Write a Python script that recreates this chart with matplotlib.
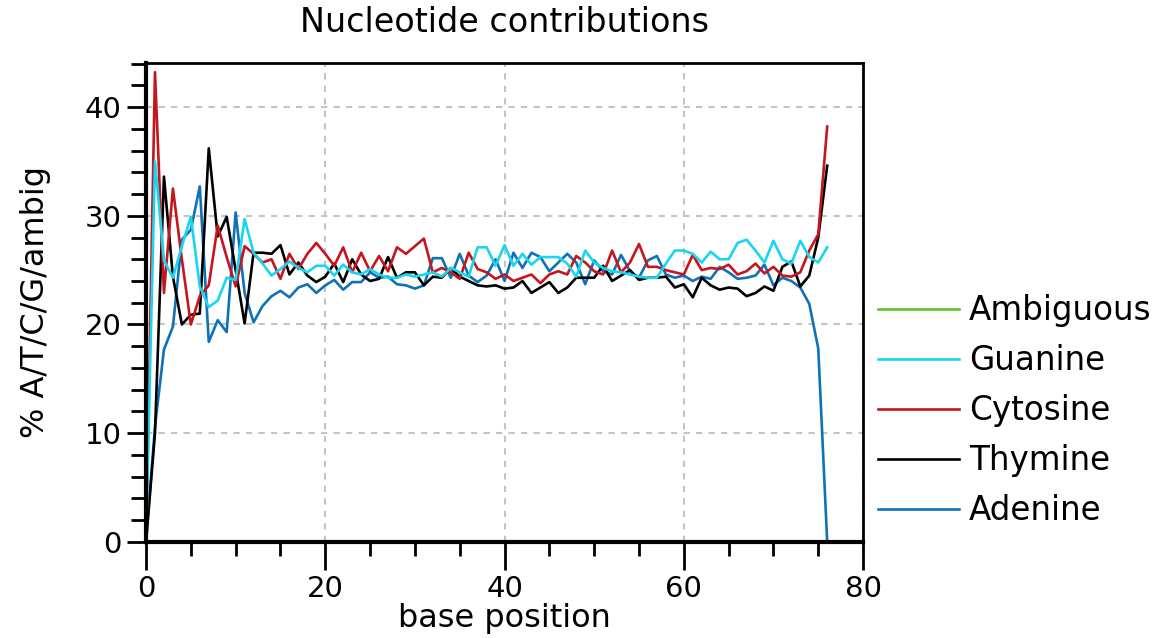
import matplotlib.pyplot as plt
from matplotlib.ticker import MultipleLocator

# per-position nucleotide percentages
positions = list(range(77))

adenine = [0, 10.6, 17.7, 19.8, 27.8, 28.7, 32.7, 18.4, 20.4, 19.3,
           30.3, 22.9, 20.2, 21.7, 22.6, 23.1, 22.5, 23.4, 23.7, 22.9,
           23.6, 24.1, 23.2, 23.9, 23.9, 24.8, 24.3, 24.4, 23.7, 23.6,
           23.3, 23.6, 26.1, 26.1, 24.3, 26.5, 24.5, 23.9, 24.5, 26.0,
           24.0, 26.6, 25.2, 26.6, 26.2, 24.9, 25.7, 26.5, 25.7, 23.7,
           25.9, 24.9, 24.6, 26.4, 24.9, 24.3, 25.9, 26.3, 24.6, 24.3,
           24.5, 24.0, 24.4, 24.2, 25.3, 24.8, 24.2, 24.3, 24.5, 25.5,
           23.6, 24.3, 24.0, 23.4, 21.9, 17.8, 0]

thymine = [0, 10.0, 33.6, 24.4, 20.0, 20.9, 21.0, 36.2, 28.1, 29.9,
           25.0, 20.1, 26.6, 26.6, 26.5, 27.3, 24.6, 25.7, 24.5, 23.9,
           24.4, 25.6, 23.9, 26.0, 24.6, 24.0, 24.2, 26.2, 24.3, 24.8,
           24.8, 23.6, 24.4, 24.3, 25.2, 24.4, 24.0, 23.6, 23.5, 23.6,
           23.3, 23.4, 24.0, 22.9, 23.4, 23.9, 22.9, 23.4, 24.3, 24.3,
           24.3, 25.4, 24.0, 24.5, 25.0, 24.1, 24.3, 24.3, 24.4, 23.4,
           23.7, 22.5, 24.3, 23.6, 23.2, 23.4, 23.3, 22.6, 22.9, 23.5,
           23.1, 25.3, 25.8, 23.5, 24.5, 28.0, 34.6]

cytosine = [0, 43.2, 22.9, 32.5, 26.0, 20.0, 22.6, 23.6, 29.1, 26.2,
            23.5, 27.2, 26.5, 25.7, 26.0, 24.2, 26.5, 25.1, 26.5, 27.5,
            26.5, 25.4, 27.1, 24.8, 26.6, 24.9, 26.3, 24.9, 27.1, 26.5,
            27.2, 27.9, 24.8, 25.2, 24.8, 24.2, 26.6, 25.1, 24.8, 24.2,
            24.6, 24.0, 24.3, 24.6, 23.8, 24.6, 24.9, 24.6, 26.3, 25.7,
            24.9, 24.6, 26.8, 24.8, 25.7, 27.4, 25.3, 25.3, 25.0, 24.8,
            24.6, 26.4, 25.0, 25.2, 25.1, 25.5, 24.6, 24.9, 25.6, 24.7,
            25.3, 24.5, 24.4, 24.8, 26.8, 28.3, 38.2]

guanine = [0, 35.0, 25.9, 24.3, 27.2, 29.9, 23.5, 21.6, 22.2, 24.3,
           24.1, 29.7, 26.6, 25.6, 24.5, 25.1, 25.8, 25.2, 24.8, 25.4,
           25.4, 24.5, 25.5, 24.8, 24.6, 25.1, 24.6, 24.3, 24.3, 24.6,
           24.4, 24.6, 24.8, 24.4, 25.2, 24.8, 24.4, 27.1, 27.1, 25.4,
           27.3, 25.4, 26.5, 25.5, 26.2, 26.2, 26.2, 25.6, 24.4, 26.8,
           25.7, 25.2, 24.9, 24.8, 24.6, 24.4, 24.3, 24.3, 25.6, 26.8,
           26.8, 26.5, 25.7, 26.7, 26.0, 26.0, 27.5, 27.8, 26.8, 25.7,
           27.7, 26.0, 25.6, 27.7, 26.2, 25.7, 27.1]

ambiguous = [0] * 77

plt.rcParams['font.family'] = 'DejaVu Sans'

fig = plt.figure(figsize=(11.58, 6.38), dpi=100)
ax = fig.add_axes([0.1261, 0.1505, 0.6192, 0.7508])

ax.plot(positions, adenine, color="#0f72b8", lw=1.9, label="Adenine")
ax.plot(positions, thymine, color="black", lw=1.9, label="Thymine")
ax.plot(positions, cytosine, color="#c4161c", lw=1.9, label="Cytosine")
ax.plot(positions, guanine, color="#18d6ef", lw=1.9, label="Guanine")
ax.plot(positions, ambiguous, color="#5fc132", lw=1.9, label="Ambiguous")

ax.set_xlim(0, 80)
ax.set_ylim(0, 44.05)
ax.xaxis.set_major_locator(MultipleLocator(20))
ax.xaxis.set_minor_locator(MultipleLocator(5))
ax.yaxis.set_major_locator(MultipleLocator(10))
ax.yaxis.set_minor_locator(MultipleLocator(2))
ax.tick_params(which="major", direction="out", length=20, width=2, labelsize=21)
ax.tick_params(which="minor", direction="out", length=10, width=2)
ax.tick_params(axis="y", which="major", length=14)
ax.tick_params(axis="y", which="minor", length=11)

ax.grid(True, which="major", color="#c4c4c4", ls=(0, (3, 3)), lw=1.5)

for side in ["left", "bottom"]:
    ax.spines[side].set_linewidth(3)
for side in ["top", "right"]:
    ax.spines[side].set_linewidth(2)

ax.set_title("Nucleotide contributions", fontsize=24, pad=22)
ax.set_xlabel("base position", fontsize=23, labelpad=0)
ax.set_ylabel("% A/T/C/G/ambig", fontsize=23, labelpad=24)

handles, labels = ax.get_legend_handles_labels()
fig.legend(handles[::-1], labels[::-1], loc="center left",
           bbox_to_anchor=(0.758, 0.356), frameon=False, fontsize=23.5,
           borderaxespad=0, borderpad=0,
           handlelength=2.5, handletextpad=0.3, labelspacing=0.52)

fig.savefig("out.png", dpi=100)
